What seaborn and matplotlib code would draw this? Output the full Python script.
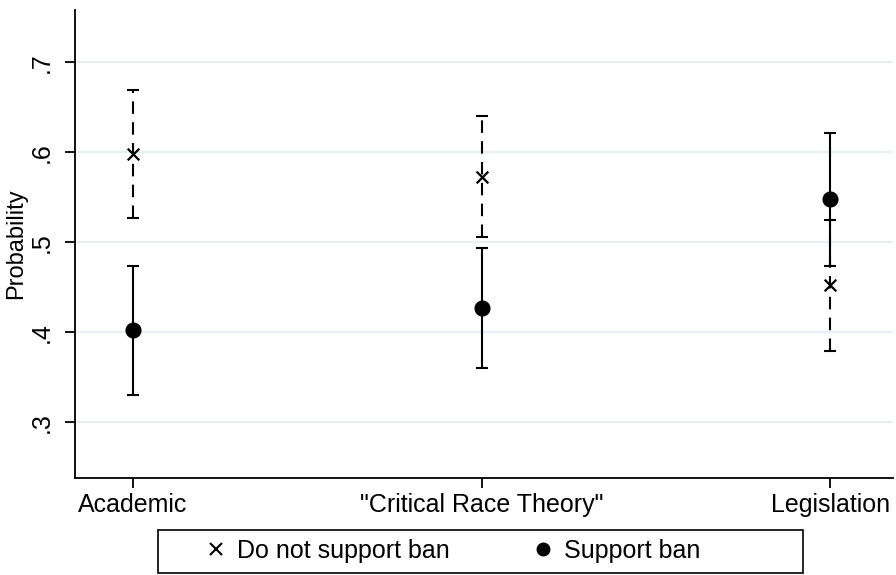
import matplotlib
matplotlib.use("Agg")
import matplotlib.pyplot as plt
import numpy as np
import pandas as pd
import seaborn as sns
from matplotlib.lines import Line2D
from matplotlib.patches import Rectangle

sns.set_style("white")
plt.rcParams['font.family'] = ['Liberation Sans', 'DejaVu Sans']
plt.rcParams['text.color'] = 'black'
plt.rcParams['axes.labelcolor'] = 'black'
plt.rcParams['xtick.color'] = 'black'
plt.rcParams['ytick.color'] = 'black'

# data
categories = ["Academic", "\"Critical Race Theory\"", "Legislation"]
groups = ["Do not support ban", "Support ban"]
est_no = [0.598, 0.572, 0.452]
lo_no = [0.527, 0.506, 0.379]
hi_no = [0.669, 0.640, 0.525]
est_yes = [0.402, 0.427, 0.548]
lo_yes = [0.330, 0.360, 0.474]
hi_yes = [0.474, 0.494, 0.621]
yticks = [0.3, 0.4, 0.5, 0.6, 0.7]
ytick_labels = [".3", ".4", ".5", ".6", ".7"]

df = pd.DataFrame({
    "cat": categories * 2,
    "group": [groups[0]] * 3 + [groups[1]] * 3,
    "est": est_no + est_yes,
    "lo": lo_no + lo_yes,
    "hi": hi_no + hi_yes,
})
df["x"] = df["cat"].map({c: i for i, c in enumerate(categories)})

fig = plt.figure(figsize=(8.96, 5.75), dpi=100)
ax = fig.add_axes([75 / 896, 97 / 575, 818 / 896, 468 / 575])

# confidence intervals
for g, ls in zip(groups, ["--", "-"]):
    sub = df[df["group"] == g]
    eb = ax.errorbar(sub["x"], sub["est"],
                     yerr=[sub["est"] - sub["lo"], sub["hi"] - sub["est"]],
                     fmt="none", ecolor="black", elinewidth=1.5,
                     capsize=4.5, capthick=1.5, zorder=2)
    eb[2][0].set_linestyle((0, (6, 4)) if ls == "--" else "-")

# point estimates
sns.scatterplot(data=df[df["group"] == groups[0]], x="x", y="est",
                marker="x", color="black", s=70, linewidth=1.6,
                ax=ax, legend=False, zorder=3)
sns.scatterplot(data=df[df["group"] == groups[1]], x="x", y="est",
                marker="o", color="black", s=115, edgecolor="black",
                ax=ax, legend=False, zorder=3)

ax.set_xlim(-0.166, 2.18)
ax.set_ylim(0.238, 0.758)
ax.set_xticks(range(len(categories)))
ax.set_xticklabels(categories, fontsize=18)
ax.set_yticks(yticks)
ax.set_yticklabels(ytick_labels, fontsize=18, rotation=90, va="center")
ax.set_xlabel("")
ax.set_ylabel("Probability", fontsize=17)
ax.yaxis.set_label_coords(-0.058, 0.5)
ax.yaxis.grid(True, color="#e6eff2", linewidth=1.4)
ax.set_axisbelow(True)
sns.despine(ax=ax)
for s in ["left", "bottom"]:
    ax.spines[s].set_color("black")
    ax.spines[s].set_linewidth(1.3)
ax.tick_params(axis="both", direction="out", length=7, width=1.3, color="black",
               bottom=True, left=True)
ax.tick_params(axis="x", pad=4)
ax.tick_params(axis="y", pad=8)

# legend box below the plot
handles = [Line2D([], [], marker="x", color="black", linestyle="none", markersize=8, markeredgewidth=1.5),
           Line2D([], [], marker="o", color="black", linestyle="none", markersize=9)]
fig.legend(handles, groups, loc="center left", bbox_to_anchor=(206 / 896, 24 / 575),
           ncol=2, fontsize=18, frameon=False, handlelength=0.8, handletextpad=0.45,
           columnspacing=3.3, borderaxespad=0, borderpad=0)
fig.add_artist(Rectangle((158 / 896, 2 / 575), 645 / 896, 43 / 575,
                         transform=fig.transFigure, fill=False,
                         edgecolor="black", linewidth=1.2))

fig.savefig("out.png", dpi=100)
